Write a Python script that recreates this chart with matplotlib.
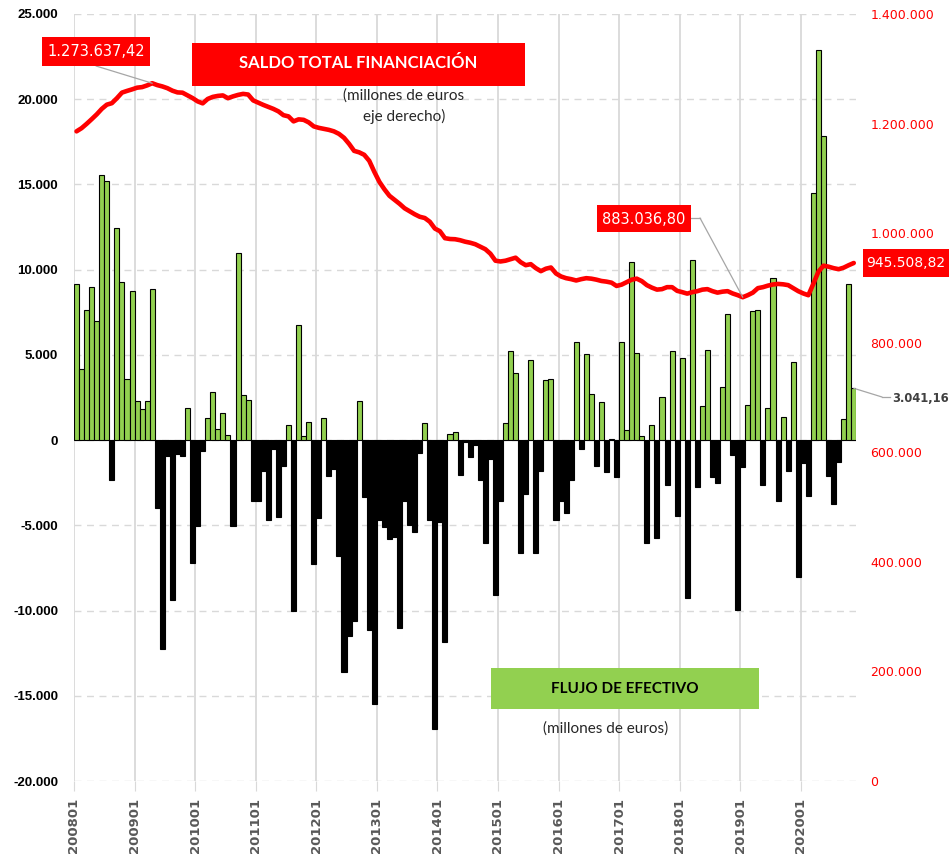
import numpy as np
import matplotlib
matplotlib.use("Agg")
import matplotlib.pyplot as plt
from matplotlib.patches import Rectangle
from matplotlib.lines import Line2D
from matplotlib.ticker import FuncFormatter

W, H = 949, 855

years = [str(y) for y in range(2008, 2021)]
tick_labels = [y + "01" for y in years]

# flujo de efectivo, millones de euros (barras, eje izquierdo)
flujo_2008 = [9180, 4170, 7640, 9010, 7000, 15540, 15220, -2330, 12420, 9270, 3590, 8770]
flujo_2009 = [2300, 1810, 2270, 8860, -3990, -12240, -960, -9360, -820, -930, 1890, -7230]
flujo_2010 = [-5010, -610, 1310, 2830, 640, 1600, 290, -5010, 10960, 2620, 2330, -3580]
flujo_2011 = [-3580, -1800, -4690, -530, -4500, -1500, 870, -10030, 6730, 260, 1050, -7290]
flujo_2012 = [-4560, 1280, -2110, -1700, -6820, -13610, -11510, -10640, 2270, -3330, -11160, -15480]
flujo_2013 = [-4660, -5100, -5800, -5680, -11020, -3560, -4960, -5420, -730, 990, -4660, -16970]
flujo_2014 = [-4810, -11860, 350, 470, -2050, -100, -1020, -290, -2350, -6030, -1080, -9070]
flujo_2015 = [-3600, 990, 5220, 3960, -6650, -3150, 4720, -6650, -1810, 3500, 3590, -4690]
flujo_2016 = [-3560, -4260, -2330, 5740, -520, 5070, 2710, -1490, 2220, -1890, 80, -2190]
flujo_2017 = [5770, 580, 10440, 5130, 230, -6030, 870, -5740, 2510, -2620, 5250, -4430]
flujo_2018 = [4810, -9240, 10550, -2770, 1980, 5310, -2190, -2540, 3120, 7380, -870, -9970]
flujo_2019 = [-1600, 2040, 7550, 7640, -2650, 1870, 9530, -3560, 1340, -1840, 4610, -8050]
flujo_2020 = [-1370, -3260, 14520, 22880, 17840, -2100, -3760, -1310, 1250, 9150, 3041.16]

# saldo total financiacion, millones de euros (linea, eje derecho)
saldo_2008 = [1185800, 1191600, 1199500, 1208000, 1216800, 1226800, 1234500, 1237200, 1246300, 1256500, 1259600, 1262400]
saldo_2009 = [1265500, 1266600, 1269700, 1273637.42, 1270200, 1267800, 1264600, 1260000, 1256900, 1256400, 1251400, 1246500]
saldo_2010 = [1240500, 1236900, 1245000, 1248700, 1250500, 1251400, 1246300, 1249600, 1252300, 1254200, 1253000, 1242300]
saldo_2011 = [1238100, 1234100, 1230500, 1226800, 1222300, 1215300, 1213100, 1204000, 1207700, 1206800, 1202200, 1194900]
saldo_2012 = [1192200, 1190400, 1188500, 1185800, 1181200, 1174000, 1163000, 1150200, 1147500, 1143000, 1132000, 1112000]
saldo_2013 = [1093700, 1080100, 1068200, 1060900, 1053600, 1045400, 1040000, 1034500, 1029900, 1027600, 1020800, 1008400]
saldo_2014 = [1003500, 990800, 989300, 988900, 987100, 984400, 982500, 979800, 975300, 970700, 962500, 949700]
saldo_2015 = [948300, 949700, 952500, 955200, 947000, 941500, 943400, 936100, 930600, 935100, 937300, 926400]
saldo_2016 = [920900, 917800, 916000, 913600, 916000, 917800, 916900, 915100, 912700, 911500, 909600, 903600]
saldo_2017 = [906000, 910500, 915100, 916900, 912400, 905100, 900500, 896900, 897800, 901400, 901400, 894700]
saldo_2018 = [892300, 889600, 892300, 894100, 896900, 897800, 894100, 891400, 893200, 894100, 889900, 886800]
saldo_2019 = [883036.80, 886800, 891400, 899600, 901400, 904200, 906300, 907300, 906600, 905100, 899600, 894100]
saldo_2020 = [889900, 886700, 907800, 929700, 940600, 938800, 936100, 934200, 937000, 941500, 945508.82]

flujo = (flujo_2008 + flujo_2009 + flujo_2010 + flujo_2011 + flujo_2012 + flujo_2013 + flujo_2014
         + flujo_2015 + flujo_2016 + flujo_2017 + flujo_2018 + flujo_2019 + flujo_2020)
saldo = (saldo_2008 + saldo_2009 + saldo_2010 + saldo_2011 + saldo_2012 + saldo_2013 + saldo_2014
         + saldo_2015 + saldo_2016 + saldo_2017 + saldo_2018 + saldo_2019 + saldo_2020)

GREEN = "#92d050"
RED = "#ff0000"


def fx(x):
    return x / W


def fy(y):
    return 1 - y / H


def miles(v, pos=None):
    return f"{v:,.0f}".replace(",", ".")


def miles2(v):
    return f"{v:,.2f}".replace(",", " ").replace(".", ",").replace(" ", ".")


fig = plt.figure(figsize=(W / 100, H / 100), dpi=100)
ax = fig.add_axes([fx(74), fy(781), (856.3 - 74) / W, (781 - 14) / H])

x = np.arange(len(flujo)) + 0.5
colors = [GREEN if v >= 0 else "black" for v in flujo]
ax.bar(x, flujo, width=1.0, color=colors, edgecolor="black", linewidth=0.8, zorder=2)

ax.set_xlim(0, len(flujo))
ax.set_ylim(-20000, 25000)
ax.set_yticks(range(-20000, 25001, 5000))
ax.yaxis.set_major_formatter(FuncFormatter(miles))
year_ticks = list(range(0, len(flujo), 12))
ax.set_xticks(year_ticks)
ax.set_xticklabels(tick_labels[:len(year_ticks)], rotation=90,
                   fontfamily="DejaVu Sans", fontweight="bold", fontsize=9.5, color="#595959")
ax.tick_params(axis="x", length=7, color="#d9d9d9", pad=5)
ax.tick_params(axis="y", length=0, pad=11.5)
for lab in ax.get_yticklabels():
    lab.set_fontfamily("Liberation Sans")
    lab.set_fontweight("bold")
    lab.set_fontsize(9.5)
ax.set_axisbelow(True)
ax.yaxis.grid(True, color="#d9d9d9", linestyle=(0, (5, 4)), linewidth=1)
ax.xaxis.grid(True, color="#d9d9d9", linestyle="-", linewidth=1.3)
for s in ax.spines.values():
    s.set_visible(False)

ax2 = ax.twinx()
ax2.plot(x, saldo, color=RED, linewidth=3.3, solid_joinstyle="round", solid_capstyle="round")
ax2.set_ylim(0, 1400000)
ax2.set_yticks(range(0, 1400001, 200000))
ax2.yaxis.set_major_formatter(FuncFormatter(miles))
ax2.tick_params(axis="y", length=0, pad=10, labelcolor=RED, labelsize=9)
for s in ax2.spines.values():
    s.set_visible(False)


def box(x0, y0, x1, y1, color):
    fig.add_artist(Rectangle((fx(x0), fy(y1)), (x1 - x0) / W, (y1 - y0) / H,
                             transform=fig.transFigure, facecolor=color, edgecolor="none", zorder=5))


def line(pts, color="#a6a6a6"):
    fig.add_artist(Line2D([fx(p[0]) for p in pts], [fy(p[1]) for p in pts],
                          transform=fig.transFigure, color=color, linewidth=0.9, zorder=4))


# titulo saldo
box(192, 43, 525, 86, RED)
fig.text(fx(358.5), fy(63), "SALDO TOTAL FINANCIACIÓN", color="white", fontfamily="Lato",
         fontweight="bold", fontsize=12, ha="center", va="center", zorder=6)
fig.text(fx(404), fy(96), "(millones de euros", color="#262626", fontfamily="Lato",
         fontsize=11, ha="center", va="center")
fig.text(fx(404), fy(116), "eje derecho)", color="#262626", fontfamily="Lato",
         fontsize=11, ha="center", va="center")

# titulo flujo
box(491, 668, 759, 709, GREEN)
fig.text(fx(625), fy(689), "FLUJO DE EFECTIVO", color="black", fontfamily="Lato",
         fontweight="bold", fontsize=11, ha="center", va="center", zorder=6)
fig.text(fx(606), fy(729), "(millones de euros)", color="#262626", fontfamily="Lato",
         fontsize=11, ha="center", va="center")

# etiqueta maximo
i_max = int(np.argmax(saldo))
ax2.annotate("", xy=(x[i_max], saldo[i_max]), xytext=(fx(96), fy(66)), textcoords="figure fraction",
             arrowprops=dict(arrowstyle="-", color="#a6a6a6", lw=0.9, shrinkA=0, shrinkB=0))
box(42, 37, 150, 66, RED)
fig.text(fx(96), fy(52), miles2(saldo[i_max]), color="white",
         fontfamily="DejaVu Sans", fontsize=10.5, ha="center", va="center", zorder=6)

# etiqueta minimo
i_min = int(np.argmin(saldo))
line([(691, 218), (700, 218)])
ax2.annotate("", xy=(x[i_min], saldo[i_min]), xytext=(fx(700), fy(218)), textcoords="figure fraction",
             arrowprops=dict(arrowstyle="-", color="#a6a6a6", lw=0.9, shrinkA=0, shrinkB=0))
box(597, 205, 691, 232, RED)
fig.text(fx(644), fy(219), miles2(saldo[i_min]), color="white",
         fontfamily="DejaVu Sans", fontsize=10.5, ha="center", va="center", zorder=6)

# etiqueta ultimo saldo
box(863, 249, 949, 277, RED)
fig.text(fx(866), fy(263), miles2(saldo[-1]), color="white",
         fontfamily="DejaVu Sans", fontsize=10, ha="left", va="center", zorder=6)

# etiqueta ultimo flujo
line([(882, 397), (890, 397)])
ax.annotate("", xy=(x[-1], flujo[-1]), xytext=(fx(882), fy(397)), textcoords="figure fraction",
            arrowprops=dict(arrowstyle="-", color="#a6a6a6", lw=0.9, shrinkA=0, shrinkB=0))
fig.text(fx(892), fy(398), miles2(flujo[-1]), color="#404040",
         fontfamily="DejaVu Sans", fontweight="bold", fontsize=8.3, ha="left", va="center")

fig.savefig("out.png", dpi=100)
